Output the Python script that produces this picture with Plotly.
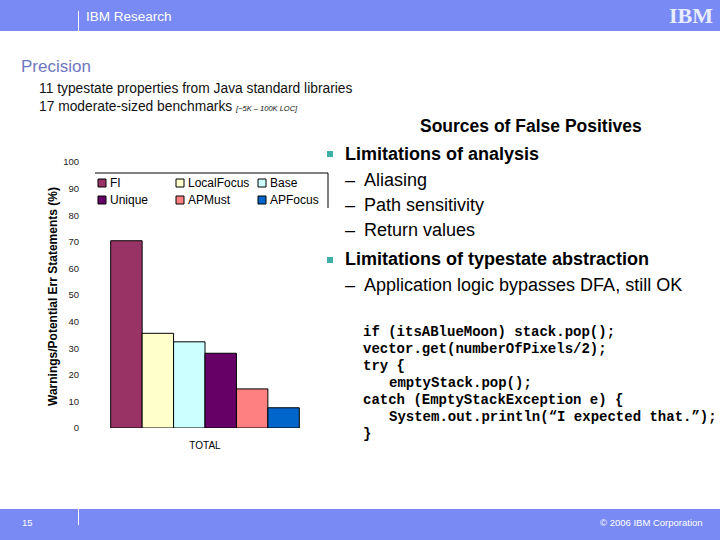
import plotly.graph_objects as go

# ---- data ----
categories = ["TOTAL"]
series_names = ["FI", "LocalFocus", "Base", "Unique", "APMust", "APFocus"]
series_values = [70.4, 35.6, 32.4, 28.1, 14.7, 7.6]
series_colors = ["#993366", "#FFFFCC", "#CCFFFF", "#660066", "#FF8080", "#0066CC"]
y_ticks = [0, 10, 20, 30, 40, 50, 60, 70, 80, 90, 100]

W, H = 720, 540
def px(x):
    return x / W
def py(y):
    return 1 - y / H

BLUE = "#798af5"
SANS = "Liberation Sans, Arial, sans-serif"

fig = go.Figure()
for name, val, col in zip(series_names, series_values, series_colors):
    fig.add_trace(go.Bar(
        x=categories, y=[val], name=name, showlegend=False,
        marker=dict(color=col, line=dict(color="#000000", width=1)),
    ))

fig.update_layout(
    width=W, height=H,
    margin=dict(l=0, r=0, t=0, b=0, autoexpand=False),
    paper_bgcolor="white", plot_bgcolor="white",
    barmode="group", bargap=0.18, bargroupgap=0,
    xaxis=dict(
        domain=[px(90), px(320)], showline=False, showgrid=False, ticks="",
        tickfont=dict(family=SANS, size=10, color="#000"), ticklabelstandoff=10,
    ),
    yaxis=dict(
        domain=[py(428), py(162)], range=[0, 100], tickvals=y_ticks,
        showgrid=False, showline=False, zeroline=False, ticks="",
        tickfont=dict(family=SANS, size=9.5, color="#222"), ticklabelstandoff=10,
    ),
)

shapes = []
ann = []

def text(x, y, t, size=12, color="#000", family=SANS, xanchor="left", bold=False, **kw):
    if bold:
        t = "<b>" + t + "</b>"
    ann.append(dict(x=px(x), y=py(y), xref="paper", yref="paper", text=t, showarrow=False,
                    xanchor=xanchor, yanchor="middle", font=dict(size=size, color=color, family=family), **kw))

# header bar and footer bar
shapes.append(dict(type="rect", xref="paper", yref="paper", x0=0, x1=1, y0=py(31), y1=1,
                   fillcolor=BLUE, line=dict(width=0), layer="below"))
shapes.append(dict(type="rect", xref="paper", yref="paper", x0=0, x1=1, y0=0, y1=py(509),
                   fillcolor=BLUE, line=dict(width=0), layer="below"))
shapes.append(dict(type="line", xref="paper", yref="paper", x0=px(78.5), x1=px(78.5), y0=py(11), y1=py(32),
                   line=dict(color="white", width=1)))
shapes.append(dict(type="line", xref="paper", yref="paper", x0=px(78.5), x1=px(78.5), y0=py(508), y1=py(525),
                   line=dict(color="white", width=1)))

# legend frame (top + right) and manual legend entries
shapes.append(dict(type="line", xref="paper", yref="paper", x0=px(95), x1=px(328), y0=py(173), y1=py(173),
                   line=dict(color="#000", width=1)))
shapes.append(dict(type="line", xref="paper", yref="paper", x0=px(328), x1=px(328), y0=py(173), y1=py(208),
                   line=dict(color="#000", width=1)))
leg_x = [98, 176, 258]
leg_y = [183, 200]
for i, (name, col) in enumerate(zip(series_names, series_colors)):
    lx = leg_x[i % 3]
    ly = leg_y[i // 3]
    shapes.append(dict(type="rect", xref="paper", yref="paper", x0=px(lx), x1=px(lx + 8),
                       y0=py(ly + 4), y1=py(ly - 4), fillcolor=col, line=dict(color="#000", width=1)))
    text(lx + 10, ly, name, size=12)

# bullets
for by in (154, 260):
    shapes.append(dict(type="rect", xref="paper", yref="paper", x0=px(327), x1=px(333),
                       y0=py(by + 3), y1=py(by - 3), fillcolor="#3fb0a8", line=dict(width=0)))

text(84, 16, "IBM Research", size=13.5, color="white")
text(691, 15, "IBM", size=22, color="#e8ecff", xanchor="center", bold=True, family="Liberation Serif, serif")
text(19, 66, "Precision", size=17, color="#6f76c2")
text(37, 89, "11 typestate properties from Java standard libraries", size=13.8, color="#111")
text(37, 106, "17 moderate-sized benchmarks <i><span style='font-size:7.5px'>[~5K – 100K LOC]</span></i>", size=13.8, color="#111")

text(531, 126, "Sources of False Positives", size=17.5, xanchor="center", bold=True)
text(343, 154, "Limitations of analysis", size=18, bold=True)
for yy, t in [(180, "Aliasing"), (205, "Path sensitivity"), (230, "Return values")]:
    text(343, yy, "–", size=18)
    text(362, yy, t, size=18)
text(343, 259, "Limitations of typestate abstraction", size=18, bold=True)
text(343, 285, "–", size=18)
text(362, 285, "Application logic bypasses DFA, still OK", size=18)

code_lines = [
    (361, "if (itsABlueMoon) stack.pop();"),
    (361, "vector.get(numberOfPixels/2);"),
    (361, "try {"),
    (387, "emptyStack.pop();"),
    (361, "catch (EmptyStackException e) {"),
    (387, "System.out.println(“I expected that.”);"),
    (361, "}"),
]
for i, (xx, t) in enumerate(code_lines):
    text(xx, 332 + i * 17, t, size=14, family="Liberation Mono, Courier New, monospace", bold=True)

# y axis title
ann.append(dict(x=px(53), y=py(297), xref="paper", yref="paper",
                text="<b>Warnings/Potential Err Statements (%)</b>", showarrow=False, textangle=-90,
                xanchor="center", yanchor="middle", font=dict(size=12, color="#000", family=SANS)))

text(20, 522, "15", size=9.5, color="white")
text(705, 522, "© 2006 IBM Corporation", size=9.5, color="white", xanchor="right")

# stripe effect on IBM logo
for k in range(9):
    yy = 5 + k * 2.6
    shapes.append(dict(type="line", xref="paper", yref="paper", x0=px(662), x1=px(720),
                       y0=py(yy), y1=py(yy), line=dict(color=BLUE, width=1)))

fig.update_layout(shapes=shapes, annotations=ann)

fig.write_html("out.html", config={"displayModeBar": False},
               post_script="document.body.style.margin='0';")
